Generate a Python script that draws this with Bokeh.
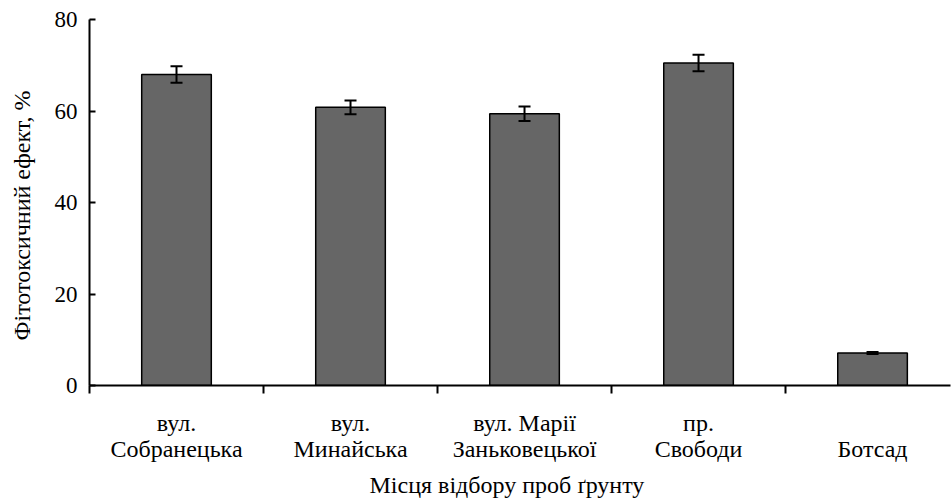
from bokeh.plotting import figure
from bokeh.models import FixedTicker, Whisker, ColumnDataSource, Range1d, Title
from bokeh.embed import file_html
from bokeh.resources import INLINE

sites = ["вул.\nСобранецька", "вул.\nМинайська", "вул. Марії\nЗаньковецької", "пр.\nСвободи", "\nБотсад"]
effect = [68.0, 60.8, 59.4, 70.5, 7.1]
err = [1.8, 1.5, 1.6, 1.8, 0.2]
y_ticks = [0, 20, 40, 60, 80]
x_title = "Місця відбору проб ґрунту"
y_title = "Фітотоксичний ефект, %"

pos = list(range(1, len(sites) + 1))
src = ColumnDataSource(dict(
    x=pos, top=effect,
    upper=[v + e for v, e in zip(effect, err)],
    lower=[v - e for v, e in zip(effect, err)],
))

FONT = "Liberation Serif"

p = figure(frame_width=861, frame_height=366,
           min_border_left=89, min_border_top=19, min_border_right=1, min_border_bottom=113,
           x_range=Range1d(0.5, 5.448), y_range=Range1d(0, 80),
           output_backend="svg", toolbar_location=None)
p.outline_line_color = None
p.grid.visible = False

p.vbar(x="x", top="top", width=0.4, bottom=0, source=src,
       fill_color="#666666", line_color="black", line_width=1.5)

w = Whisker(base="x", upper="upper", lower="lower", source=src,
            line_color="black", line_width=2, level="overlay")
w.upper_head.size = 12
w.lower_head.size = 12
w.upper_head.line_width = 2
w.lower_head.line_width = 2
p.add_layout(w)

# x axis
xa = p.xaxis[0]
xa.ticker = FixedTicker(ticks=pos, minor_ticks=[k + 0.5 for k in range(len(sites) + 1)])
xa.major_label_overrides = {k: s for k, s in zip(pos, sites)}
xa.major_tick_out = 0
xa.major_tick_in = 0
xa.minor_tick_out = 8
xa.minor_tick_in = 0
xa.minor_tick_line_width = 2
xa.axis_line_width = 2
xa.major_label_text_font = FONT
xa.major_label_text_font_size = "24px"
xa.major_label_text_line_height = 1.0
xa.major_label_text_color = "black"
xa.major_label_standoff = 16

# y axis
ya = p.yaxis[0]
ya.ticker = FixedTicker(ticks=y_ticks, minor_ticks=[])
ya.major_tick_in = 6
ya.major_tick_out = 0
ya.major_tick_line_width = 2
ya.axis_line_width = 2
ya.major_label_text_font = FONT
ya.major_label_text_font_size = "23px"
ya.major_label_text_color = "black"
ya.major_label_standoff = 12

p.add_layout(Title(text=x_title, align="left", offset=280,
                   text_font=FONT, text_font_size="24px", text_font_style="normal",
                   text_color="black", standoff=10), "below")
p.add_layout(Title(text=y_title + "\n", align="left", offset=45, text_line_height=0.5,
                   text_font=FONT, text_font_size="24px", text_font_style="normal",
                   text_color="black", standoff=8), "left")

open("out.html", "w").write(file_html(p, INLINE))
